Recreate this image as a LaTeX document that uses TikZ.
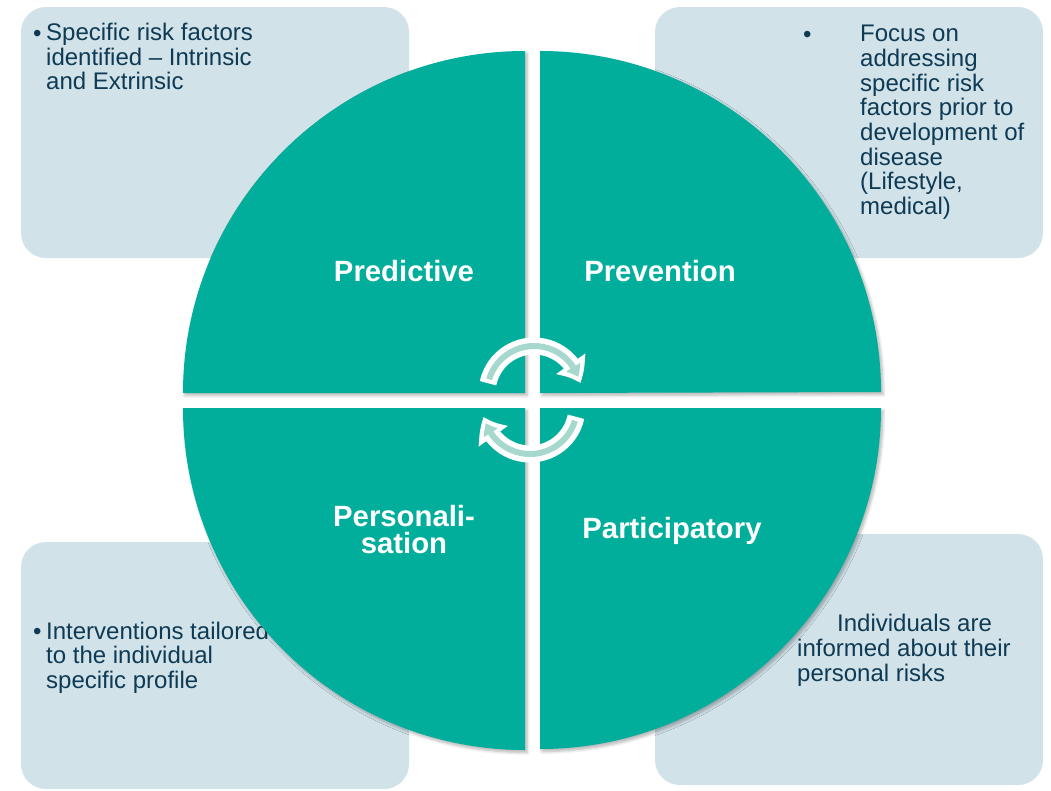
\documentclass[tikz,border=0pt]{standalone}
\usepackage{fontspec}
\setmainfont{Liberation Sans}
\usetikzlibrary{arrows.meta}
\usetikzlibrary{bending}
\usetikzlibrary{shadows.blur}
\definecolor{quadteal}{RGB}{0,174,155}
\definecolor{boxblue}{RGB}{209,226,233}
\definecolor{textnavy}{RGB}{14,58,84}
\definecolor{arrowmint}{RGB}{166,216,206}
\tikzset{
  infobox/.style={fill=boxblue, rounded corners=25pt},
  quadrant/.style={fill=quadteal, blur shadow={shadow blur steps=6, shadow blur radius=3pt, shadow xshift=2pt, shadow yshift=-2.5pt, shadow opacity=30}},
  infotext/.style={text=textnavy, font=\fontsize{24}{24.7}\selectfont, inner sep=0pt, align=left, anchor=north west},
  bulletmark/.style={text=textnavy, font=\fontsize{24}{24.7}\selectfont, inner sep=0pt, anchor=base west},
  quadlabel/.style={text=white, font=\fontsize{29.3}{27}\selectfont\bfseries, inner sep=0pt, align=center},
  cycleband/.style={draw=white, line width=17pt, -{Triangle[bend,width=34pt,length=22pt]}},
  cyclestripe/.style={draw=arrowmint, line width=6pt, -{Triangle[bend,width=16pt,length=11pt]}},
}

\begin{document}
\begin{tikzpicture}[x=1pt,y=1pt,yscale=-1]
\useasboundingbox (0,0) rectangle (1051,790);

%Shape: Rounded Rect (top left)
\fill [infobox] (21,7) rectangle (409,258);
%Shape: Rounded Rect (top right)
\fill [infobox] (655,7) rectangle (1043,258);
%Shape: Rounded Rect (bottom left)
\fill [infobox] (21,542) rectangle (409,789);
%Shape: Rounded Rect (bottom right)
\fill [infobox] (655,534) rectangle (1043,785);

%Text in the boxes
\node [bulletmark] (predbullet) at (33,41) {\textbullet};
\node [infotext] (predtext) at (46,23) {Specific risk factors\\identified -- Intrinsic\\and Extrinsic};
\node [bulletmark] (prevbullet) at (803,42) {\textbullet};
\node [infotext] (prevtext) at (860,25) {Focus on\\addressing\\specific risk\\factors prior to\\development of\\disease\\(Lifestyle,\\medical)};
\node [bulletmark] (persbullet) at (33,639) {\textbullet};
\node [infotext] (perstext) at (46,621.5) {Interventions tailored\\to the individual\\specific profile};
\node [infotext] (parttext) at (797,614) {\hspace*{40pt}Individuals are\\informed about their\\personal risks};

%Shape: Quarter Circles
\fill [quadrant] (525,393) -- (183,393) arc [start angle=180, end angle=270, radius=342] -- cycle;
\fill [quadrant] (540,393) -- (540,51) arc [start angle=270, end angle=360, radius=341] -- cycle;
\fill [quadrant] (525,408) -- (525,750) arc [start angle=90, end angle=180, radius=342] -- cycle;
\fill [quadrant] (540,408) -- (881,408) arc [start angle=0, end angle=90, radius=341] -- cycle;

%Labels
\node [quadlabel, anchor=base] (predictive) at (404,281) {Predictive};
\node [quadlabel, anchor=base] (prevention) at (660,281) {Prevention};
\node [quadlabel, anchor=north] (personalisation) at (404,504.6) {Personali-\\sation};
\node [quadlabel, anchor=base] (participatory) at (672,538) {Participatory};

%Curved Arrows
\draw [cycleband] (534,393) ++(-168:47) arc [start angle=-168, end angle=-12, radius=47];
\draw [cyclestripe] (534,393) ++(-163:47) arc [start angle=-163, end angle=-20, radius=47];
\draw [cycleband] (530,407) ++(12:47) arc [start angle=12, end angle=168, radius=47];
\draw [cyclestripe] (530,407) ++(17:47) arc [start angle=17, end angle=160, radius=47];
\end{tikzpicture}
\end{document}
